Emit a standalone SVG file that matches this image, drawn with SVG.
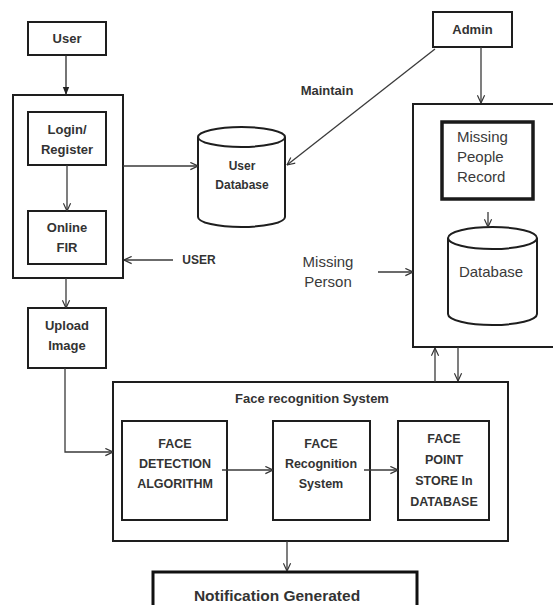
<svg xmlns="http://www.w3.org/2000/svg" width="553" height="605" viewBox="0 0 553 605">
<defs>
<marker id="open" viewBox="0 0 10 10" refX="9.5" refY="5" markerWidth="9" markerHeight="9" markerUnits="userSpaceOnUse" orient="auto">
<path d="M1,1 L9.5,5 L1,9" fill="none" stroke="#333" stroke-width="1.3"/>
</marker>
<marker id="solid" viewBox="0 0 10 10" refX="10" refY="5" markerWidth="8" markerHeight="8" markerUnits="userSpaceOnUse" orient="auto">
<path d="M0,1 L10,5 L0,9 Z" fill="#222"/>
</marker>
<style>
.box{fill:#fff;stroke:#1e1e1e;stroke-width:2}
.frame{fill:none;stroke:#1e1e1e;stroke-width:2}
.thick{fill:#fff;stroke:#1a1a1a;stroke-width:3.5}
.cyl{fill:#fff;stroke:#1e1e1e;stroke-width:2}
.con{fill:none;stroke:#3a3a3a;stroke-width:1.3;marker-end:url(#open)}
.b{font-family:"Liberation Sans",Arial,sans-serif;font-weight:bold;fill:#333;text-anchor:middle}
.r{font-family:"Liberation Sans",Arial,sans-serif;fill:#3a3a3a;text-anchor:middle;font-size:15px}
.s12{font-size:12px}
.s13{font-size:13px}
.s125{font-size:12.5px}
</style>
</defs>
<rect width="553" height="605" fill="#fff"/>

<g id="user">
<rect class="box" x="28" y="22" width="78" height="33"/>
<text class="b s13" x="67" y="43">User</text>
</g>

<g id="user-container">
<rect class="frame" x="13" y="95" width="110" height="183"/>
</g>

<g id="login-register">
<rect class="box" x="28" y="112" width="78" height="53"/>
<text class="b s13" x="67" y="134">Login/</text>
<text class="b s13" x="67" y="154">Register</text>
</g>

<g id="online-fir">
<rect class="box" x="28" y="211" width="78" height="53"/>
<text class="b s13" x="67" y="232">Online</text>
<text class="b s13" x="67" y="252">FIR</text>
</g>

<g id="user-label">
<text class="b s12" x="199" y="264">USER</text>
</g>

<g id="upload-image">
<rect class="box" x="28" y="308" width="78" height="60"/>
<text class="b s13" x="67" y="330">Upload</text>
<text class="b s13" x="67" y="350">Image</text>
</g>

<g id="user-database">
<path class="cyl" d="M198,137 V217 A43.5,10 0 0 0 285,217 V137"/>
<ellipse class="cyl" cx="241.5" cy="137" rx="43.5" ry="10"/>
<text class="b s12" x="242" y="170">User</text>
<text class="b s12" x="242" y="189">Database</text>
</g>

<g id="maintain-label">
<text class="b s13" x="327" y="95">Maintain</text>
</g>

<g id="admin">
<rect class="box" x="433" y="12" width="79" height="35"/>
<text class="b s13" x="472.5" y="34">Admin</text>
</g>

<g id="missing-person-label">
<text class="r" x="328" y="267">Missing</text>
<text class="r" x="328" y="287">Person</text>
</g>

<g id="records-container">
<rect class="frame" x="413" y="104" width="145" height="243"/>
</g>

<g id="missing-people-record">
<rect class="thick" x="442" y="122" width="91" height="77"/>
<text class="r" x="457" y="142" style="text-anchor:start">Missing</text>
<text class="r" x="457" y="162" style="text-anchor:start">People</text>
<text class="r" x="457" y="182" style="text-anchor:start">Record</text>
</g>

<g id="database">
<path class="cyl" d="M448,238 V314 A44.5,11 0 0 0 537,314 V238"/>
<ellipse class="cyl" cx="492.5" cy="238" rx="44.5" ry="11"/>
<text class="r" x="491" y="277">Database</text>
</g>

<g id="face-recognition-system">
<rect class="frame" x="113" y="382" width="395" height="159"/>
<text class="b s13" x="312" y="403">Face recognition System</text>
</g>

<g id="face-detection">
<rect class="box" x="122" y="421" width="105" height="99"/>
<text class="b s125" x="175" y="448">FACE</text>
<text class="b s125" x="175" y="468">DETECTION</text>
<text class="b s125" x="175" y="488">ALGORITHM</text>
</g>

<g id="face-recognition">
<rect class="box" x="273" y="421" width="97" height="99"/>
<text class="b s125" x="321" y="448">FACE</text>
<text class="b s125" x="321" y="468">Recognition</text>
<text class="b s125" x="321" y="488">System</text>
</g>

<g id="face-point-store">
<rect class="box" x="398" y="421" width="91" height="99"/>
<text class="b s125" x="444" y="443">FACE</text>
<text class="b s125" x="444" y="464">POINT</text>
<text class="b s125" x="444" y="485">STORE In</text>
<text class="b s125" x="444" y="506">DATABASE</text>
</g>

<g id="notification">
<rect x="153" y="572" width="264" height="50" fill="#fff" stroke="#111" stroke-width="3"/>
<text class="b" style="font-size:15.5px" x="277" y="601">Notification Generated</text>
</g>

<g id="connectors">
<line x1="66" y1="55" x2="66" y2="95" style="fill:none;stroke:#2a2a2a;stroke-width:1.3" marker-end="url(#solid)"/>
<line class="con" x1="67" y1="165" x2="67" y2="211"/>
<line class="con" x1="123" y1="166" x2="198" y2="166"/>
<line class="con" x1="173" y1="260" x2="124" y2="260"/>
<line class="con" x1="66" y1="278" x2="66" y2="308"/>
<polyline class="con" points="65,368 65,452 113,452"/>
<line class="con" x1="435" y1="49" x2="287" y2="165"/>
<line class="con" x1="481" y1="47" x2="481" y2="103"/>
<line class="con" x1="488" y1="212" x2="488" y2="227"/>
<line class="con" x1="378" y1="272" x2="413" y2="272"/>
<line class="con" x1="435" y1="382" x2="435" y2="348"/>
<line class="con" x1="458" y1="347" x2="458" y2="381"/>
<line class="con" x1="222" y1="470" x2="273" y2="470"/>
<line class="con" x1="364" y1="470" x2="398" y2="470"/>
<line class="con" x1="287" y1="541" x2="287" y2="571"/>
</g>
</svg>
